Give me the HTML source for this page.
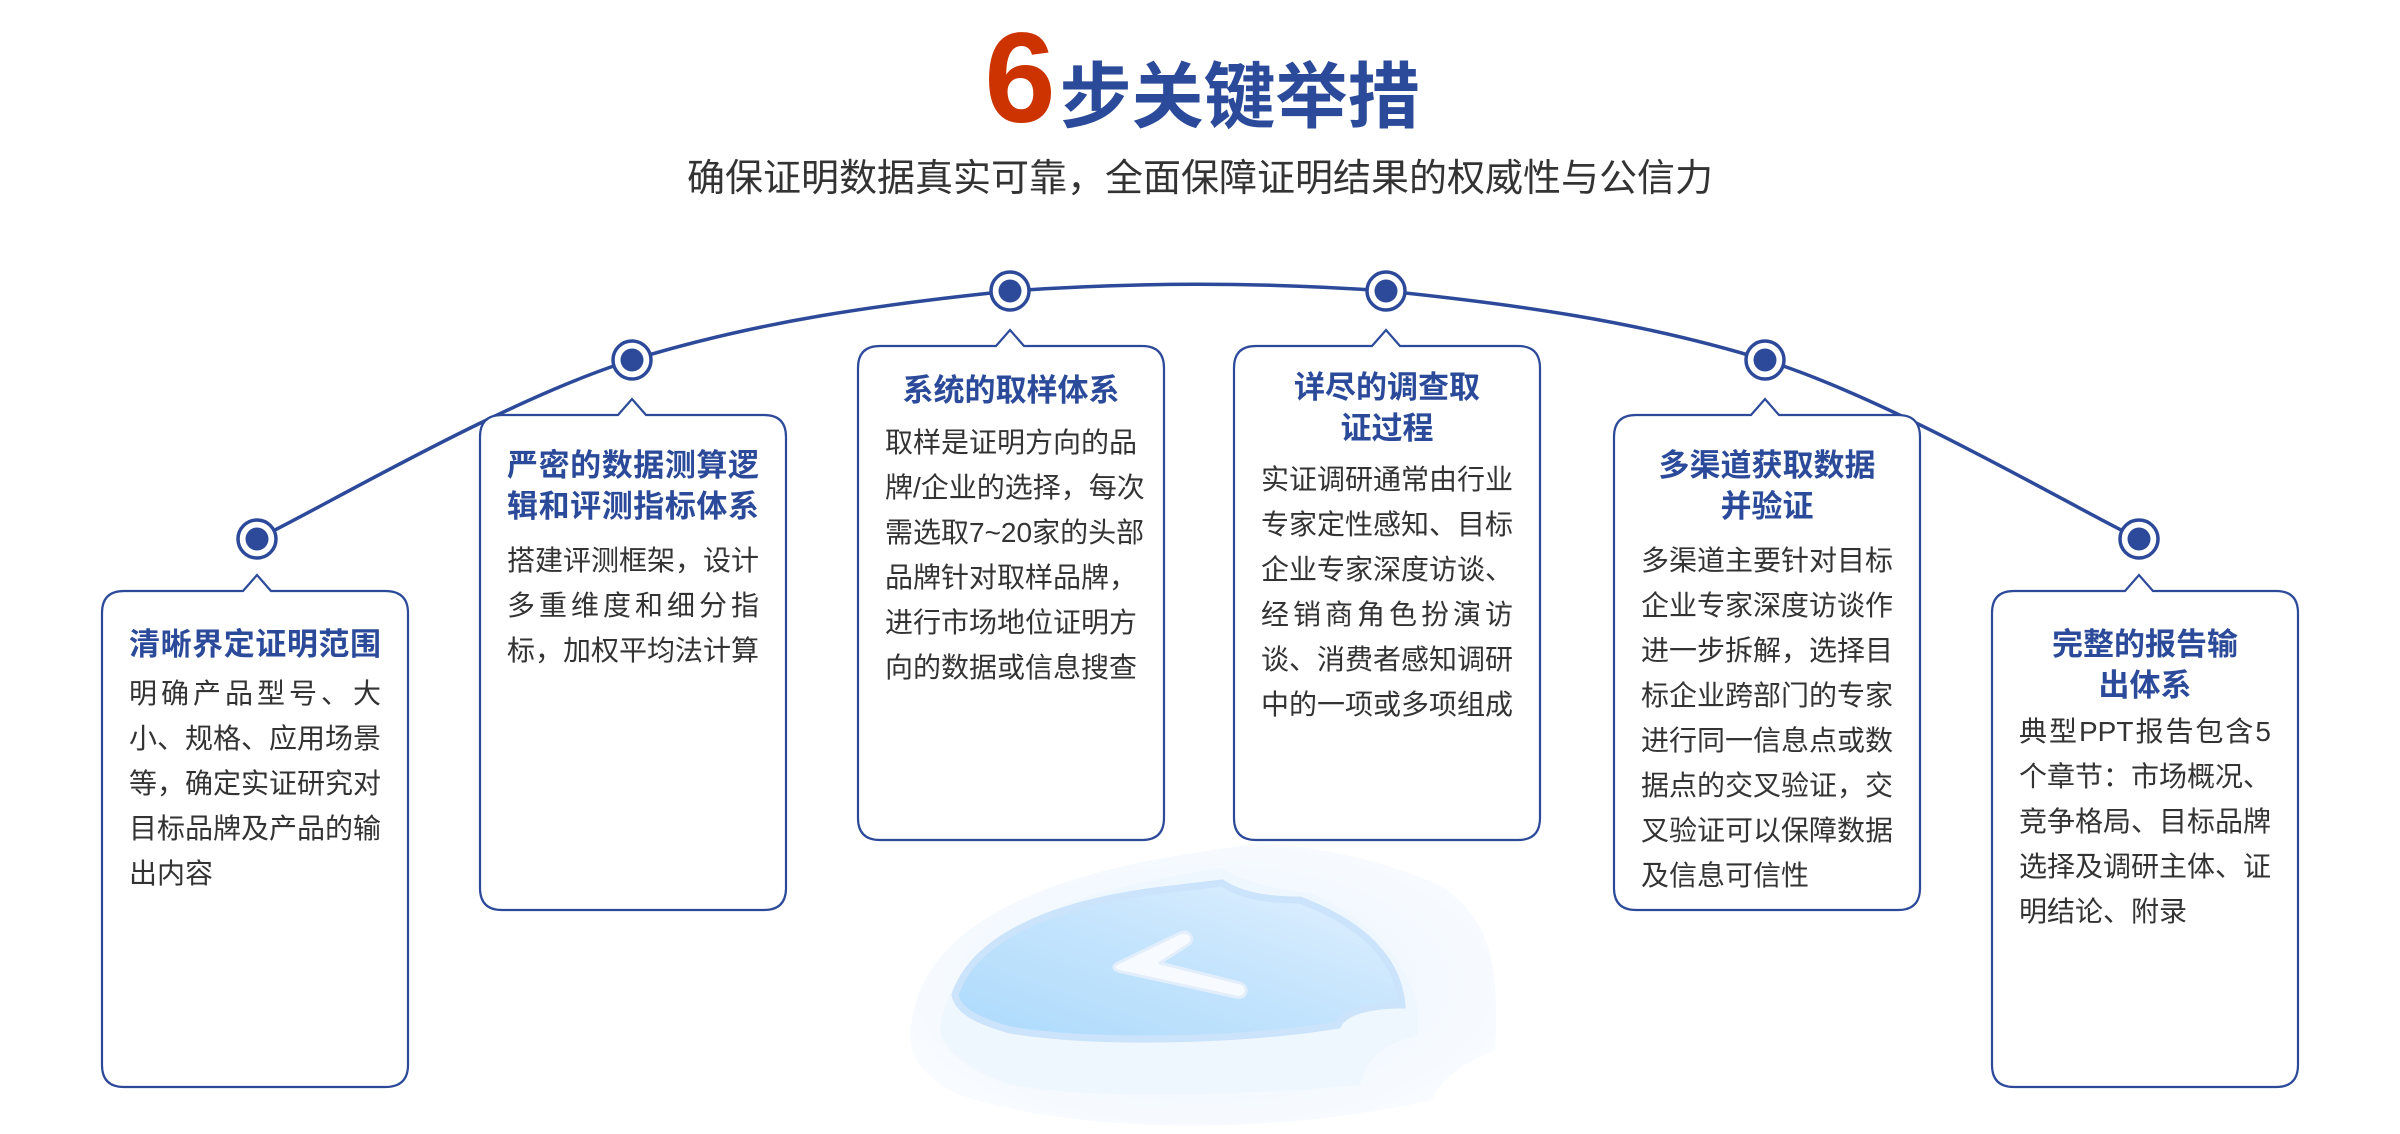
<!DOCTYPE html>
<html><head><meta charset="utf-8"><style>
*{margin:0;padding:0;box-sizing:border-box}
body{width:2400px;height:1134px;background:#fff;position:relative;overflow:hidden;font-family:"Liberation Sans","Noto Sans CJK SC",sans-serif}
svg{position:absolute;left:0;top:0}
.h{position:absolute;width:2400px;text-align:center}
.t{position:absolute;width:252px;font-size:31px;font-weight:bold;color:#2b4a9a;line-height:41px;text-align:center}
.b{position:absolute;width:252px;font-size:28px;color:#333;line-height:45px}
.b div{text-align:justify;text-align-last:justify;white-space:nowrap}
.b div.l{text-align-last:left}
</style></head><body>
<svg width="2400" height="1134" viewBox="0 0 2400 1134">
<defs>
<linearGradient id="g1" x1="0" y1="1" x2="1" y2="0"><stop offset="0" stop-color="#acdafc"/><stop offset="0.6" stop-color="#c9e6fd"/><stop offset="1" stop-color="#e4f1fe"/></linearGradient>
<radialGradient id="g2" cx="0.5" cy="0.5" r="0.55"><stop offset="0" stop-color="#eaf4fe"/><stop offset="1" stop-color="#f8fbff"/></radialGradient>
</defs>
<path d="M912 1020 C925 930 1030 880 1180 855 L1260 843 C1330 848 1385 862 1440 885 C1490 920 1500 960 1495 1050 C1460 1065 1440 1080 1432 1100 C1300 1130 1100 1140 960 1095 C920 1075 905 1055 912 1020Z" fill="url(#g2)"/>
<path d="M940 1030 C950 945 1040 900 1180 875 L1222 868 C1240 880 1275 890 1310 893 C1370 920 1410 960 1418 1010 L1418 1035 C1380 1045 1365 1060 1360 1085 C1250 1095 1100 1100 1010 1085 C970 1070 945 1055 940 1030Z" fill="#eef6fe" opacity="0.8"/>
<path d="M955 995 C975 935 1060 900 1180 888 L1222 883 C1240 895 1265 900 1300 900 C1365 925 1398 960 1402 1005 C1375 1005 1345 1010 1338 1025 C1250 1040 1100 1045 1010 1030 C975 1020 958 1010 955 995Z" fill="url(#g1)" stroke="#cbe3fb" stroke-width="7"/>
<path d="M1118 963 L1180 933 C1190 929 1196 940 1188 945 L1160 963 L1240 983 C1250 986 1247 1000 1236 997 L1122 972 C1112 970 1112 966 1118 963Z" fill="#f7fbff" stroke="#e2eefc" stroke-width="3" stroke-linejoin="round"/>
<path d="M257 539 C320 509 506 399 632 360 C758 321 884 304 1010 291 C1136 282 1260 282 1386 291 C1512 304 1639 321 1765 360 C1891 399 2076 509 2139 539" fill="none" stroke="#2d4a9a" stroke-width="3.5"/>
<g fill="#fff" stroke="#2d4a9a" stroke-width="2.2">
<path d="M124 591 H243 L257 575 L271 591 H385 Q408 591 408 613 V1065 Q408 1087 385 1087 H124 Q102 1087 102 1065 V613 Q102 591 124 591Z"/>
<path d="M502 415 H618 L632 399 L646 415 H764 Q786 415 786 437 V888 Q786 910 764 910 H502 Q480 910 480 888 V437 Q480 415 502 415Z"/>
<path d="M880 346 H996 L1010 330 L1024 346 H1142 Q1164 346 1164 368 V818 Q1164 840 1142 840 H880 Q858 840 858 818 V368 Q858 346 880 346Z"/>
<path d="M1256 346 H1372 L1386 330 L1400 346 H1518 Q1540 346 1540 368 V818 Q1540 840 1518 840 H1256 Q1234 840 1234 818 V368 Q1234 346 1256 346Z"/>
<path d="M1636 415 H1751 L1765 399 L1779 415 H1898 Q1920 415 1920 437 V888 Q1920 910 1898 910 H1636 Q1614 910 1614 888 V437 Q1614 415 1636 415Z"/>
<path d="M2014 591 H2125 L2139 575 L2153 591 H2276 Q2298 591 2298 613 V1065 Q2298 1087 2276 1087 H2014 Q1992 1087 1992 1065 V613 Q1992 591 2014 591Z"/>
</g>
<g fill="#fff" stroke="#2d4a9a" stroke-width="3.5">
<circle cx="257" cy="539" r="19"/><circle cx="632" cy="360" r="19"/><circle cx="1010" cy="291" r="19"/><circle cx="1386" cy="291" r="19"/><circle cx="1765" cy="360" r="19"/><circle cx="2139" cy="539" r="19"/>
</g>
<g fill="#2d4a9a">
<circle cx="257" cy="539" r="11.5"/><circle cx="632" cy="360" r="11.5"/><circle cx="1010" cy="291" r="11.5"/><circle cx="1386" cy="291" r="11.5"/><circle cx="1765" cy="360" r="11.5"/><circle cx="2139" cy="539" r="11.5"/>
</g>
</svg>
<div class="h" style="top:14px;height:130px;display:flex;justify-content:center;align-items:baseline;padding-left:4px">
<span style="font-size:128px;font-weight:bold;color:#cc3300;line-height:130px">6</span><span style="font-size:72px;font-weight:bold;color:#2b4a9a;margin-left:4px">步关键举措</span>
</div>
<div class="h" style="top:156px;font-size:38px;color:#333;line-height:46px">确保证明数据真实可靠，全面保障证明结果的权威性与公信力</div>

<div class="t" style="left:129px;top:624px;text-align-last:justify">清晰界定证明范围</div>
<div class="b" style="left:129px;top:671px"><div>明确产品型号、大</div><div>小、规格、应用场景</div><div>等，确定实证研究对</div><div>目标品牌及产品的输</div><div class="l">出内容</div></div>

<div class="t" style="left:507px;top:445px;text-align:justify;text-align-last:justify"><div>严密的数据测算逻</div><div>辑和评测指标体系</div></div>
<div class="b" style="left:507px;top:538px"><div>搭建评测框架，设计</div><div>多重维度和细分指</div><div class="l">标，加权平均法计算</div></div>

<div class="t" style="left:885px;top:370px">系统的取样体系</div>
<div class="b" style="left:885px;top:420px"><div>取样是证明方向的品</div><div>牌/企业的选择，每次</div><div>需选取7~20家的头部</div><div>品牌针对取样品牌，</div><div>进行市场地位证明方</div><div>向的数据或信息搜查</div></div>

<div class="t" style="left:1261px;top:367px">详尽的调查取<br>证过程</div>
<div class="b" style="left:1261px;top:457px"><div>实证调研通常由行业</div><div>专家定性感知、目标</div><div>企业专家深度访谈、</div><div>经销商角色扮演访</div><div>谈、消费者感知调研</div><div>中的一项或多项组成</div></div>

<div class="t" style="left:1641px;top:445px">多渠道获取数据<br>并验证</div>
<div class="b" style="left:1641px;top:538px"><div>多渠道主要针对目标</div><div>企业专家深度访谈作</div><div>进一步拆解，选择目</div><div>标企业跨部门的专家</div><div>进行同一信息点或数</div><div>据点的交叉验证，交</div><div>叉验证可以保障数据</div><div class="l">及信息可信性</div></div>

<div class="t" style="left:2019px;top:624px">完整的报告输<br>出体系</div>
<div class="b" style="left:2019px;top:709px"><div>典型PPT报告包含5</div><div>个章节：市场概况、</div><div>竞争格局、目标品牌</div><div>选择及调研主体、证</div><div class="l">明结论、附录</div></div>
</body></html>
